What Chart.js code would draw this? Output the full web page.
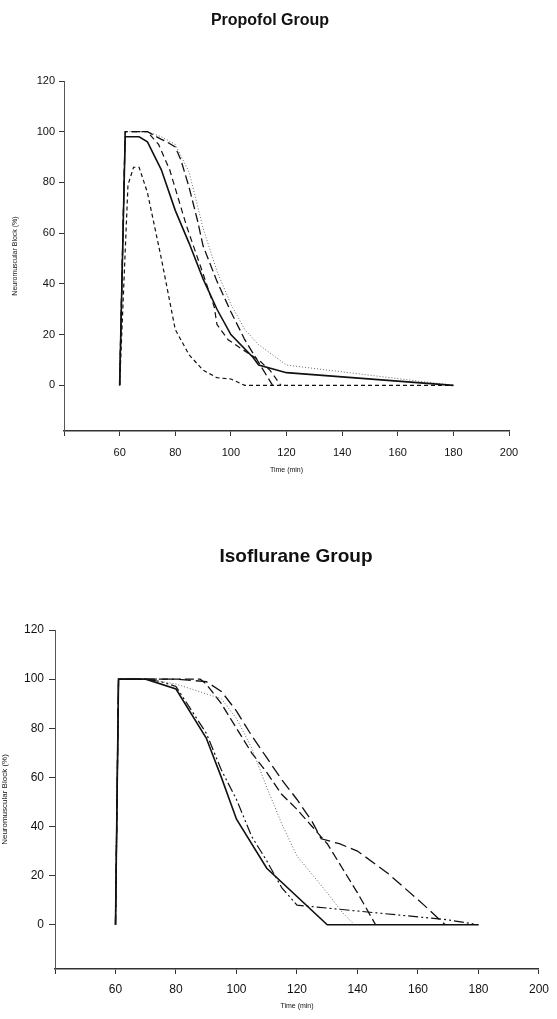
<!DOCTYPE html>
<html>
<head>
<meta charset="utf-8">
<script src="https://cdn.jsdelivr.net/npm/chart.js@4.4.1/dist/chart.umd.min.js"></script>
<style>
    body { margin: 0; background: #fff; width: 557px; height: 1019px; position: relative; overflow: hidden; font-family: "Liberation Sans", Arial, sans-serif; }
    canvas { position: absolute; left: 0; }
    .titulo { position: absolute; width: 300px; text-align: center; font-weight: bold; color: #111; white-space: nowrap; }
</style>
</head>
<body>
<canvas id="propofol" width="557" height="490" style="top:0"></canvas>
<canvas id="isoflurane" width="557" height="489" style="top:530px"></canvas>
<div class="titulo" style="left:120px; top:10px; font-size:16px; line-height:20px;">Propofol Group</div>
<div class="titulo" style="left:146px; top:545px; font-size:19px; line-height:22px;">Isoflurane Group</div>
<script>
// eixos
const xTicks = [40, 60, 80, 100, 120, 140, 160, 180, 200];
const yTicks = [0, 20, 40, 60, 80, 100, 120];

// Propofol group: [time, block %]
const propSolid = [[60, 0], [62, 98], [67, 98], [70, 96], [75, 85], [80, 69], [85, 56], [90, 42], [95, 30], [100, 20], [108, 11], [110, 8], [120, 5], [180, 0]];
const propShortDash = [[60, 0], [63, 79], [65, 86], [67, 86], [70, 76], [75, 50], [80, 22], [85, 12], [90, 6], [95, 3], [100, 2.5], [105, 0], [180, 0]];
const propLongDash = [[60, 0], [62, 100], [70, 100], [75, 97], [77, 96], [80, 94], [82, 89], [85, 78], [88, 65], [90, 55], [95, 41], [100, 29], [105, 18], [115, 0]];
const propMedDash = [[60, 0], [62, 100], [70, 100], [74, 95], [78, 85], [81, 74], [84, 63], [90, 44], [94, 31], [95, 24], [99, 18], [103, 15], [110, 10], [114, 6], [118, 0]];
const propDotted = [[60, 0], [62, 100], [70, 100], [75, 98], [80, 95], [85, 84], [90, 62], [95, 45], [100, 32], [105, 22], [110, 16], [115, 12], [120, 8], [180, 0]];

// Isoflurane group
const isoSolid = [[60, 0], [61, 100], [70, 100], [80, 96], [90, 76], [95, 60], [100, 43], [110, 23], [130, 0], [180, 0]];
const isoDashDot = [[60, 0], [61, 100], [70, 100], [75, 99], [80, 97], [90, 78], [95, 63], [100, 51], [105, 36], [110, 26], [115, 15], [120, 8], [170, 2], [180, 0]];
const isoDotted = [[60, 0], [61, 100], [70, 100], [80, 98], [90, 94], [95, 92], [100, 84], [105, 72], [110, 56], [115, 41], [120, 28], [130, 13], [135, 5], [139, 0]];
const isoLongDashA = [[60, 0], [61, 100], [70, 100], [80, 100], [88, 100], [90, 98], [95, 90], [100, 80], [105, 70], [110, 62], [115, 53], [120, 47], [125, 40], [130, 33], [135, 23], [140, 13], [146, 0]];
const isoLongDashB = [[60, 0], [61, 100], [70, 100], [80, 100], [90, 99], [95, 95], [100, 87], [105, 77], [110, 68], [115, 59], [120, 51], [125, 42], [128, 35], [134, 33], [140, 30], [150, 21], [162, 8], [169, 0]];

Chart.defaults.font.family = '"Liberation Sans", Arial, sans-serif';
Chart.defaults.color = '#111';

function serie(pontos, estilo) {
    return Object.assign({
        data: pontos.map(p => ({ x: p[0], y: p[1] })),
        borderColor: '#111',
        borderWidth: 1.3,
        pointRadius: 0,
        tension: 0,
        fill: false
    }, estilo);
}

function grafico(id, datasets, cfg) {
    new Chart(document.getElementById(id), {
        type: 'line',
        data: { datasets: datasets },
        options: {
            responsive: false,
            animation: false,
            layout: { padding: cfg.padding },
            plugins: { legend: { display: false }, tooltip: { enabled: false } },
            scales: {
                x: {
                    type: 'linear',
                    min: 40,
                    max: 200,
                    afterBuildTicks: s => { s.ticks = xTicks.map(v => ({ value: v })); },
                    afterFit: s => { s.height = cfg.xHeight; },
                    ticks: {
                        autoSkip: false,
                        maxRotation: 0,
                        padding: cfg.xPad,
                        font: { size: cfg.tickSize },
                        callback: v => v === 40 ? '' : v
                    },
                    grid: { drawOnChartArea: false, tickLength: 5, color: '#333' },
                    border: { color: '#333', width: 1.5 },
                    title: { display: true, text: 'Time (min)', font: { size: 7 }, padding: { top: 0, bottom: cfg.xTitlePad } }
                },
                y: {
                    type: 'linear',
                    min: -18,
                    max: 120,
                    afterBuildTicks: s => { s.ticks = yTicks.map(v => ({ value: v })); },
                    afterFit: s => { s.width = cfg.yWidth; },
                    ticks: { padding: cfg.yPad, font: { size: cfg.tickSize } },
                    grid: { drawOnChartArea: false, tickLength: cfg.yTick, color: '#333' },
                    border: { color: '#555', width: 1 },
                    title: { display: true, text: 'Neuromuscular Block (%)', font: { size: cfg.yTitleSize }, padding: { top: cfg.yTitlePad, bottom: 0 } }
                }
            }
        }
    });
}

grafico('propofol', [
    serie(propSolid, { borderWidth: 1.6 }),
    serie(propShortDash, { borderDash: [4, 3], borderWidth: 1.2 }),
    serie(propLongDash, { borderDash: [9, 4] }),
    serie(propMedDash, { borderDash: [6, 4], borderWidth: 1.2 }),
    serie(propDotted, { borderDash: [1, 2], borderColor: '#666', borderWidth: 1 })
], { padding: { top: 81, right: 48, bottom: 0, left: 0 }, xHeight: 59, yWidth: 64, xPad: 10, yPad: 4, yTick: 5, tickSize: 11, xTitlePad: 16, yTitlePad: 11, yTitleSize: 7 });

grafico('isoflurane', [
    serie(isoSolid, { borderWidth: 1.6 }),
    serie(isoDashDot, { borderDash: [10, 3, 2, 3, 2, 3], borderWidth: 1.2 }),
    serie(isoDotted, { borderDash: [1, 2], borderColor: '#666', borderWidth: 1 }),
    serie(isoLongDashA, { borderDash: [9, 4] }),
    serie(isoLongDashB, { borderDash: [12, 5] })
], { padding: { top: 100, right: 11, bottom: 0, left: 0 }, xHeight: 50, yWidth: 55, xPad: 8, yPad: 5, yTick: 6, tickSize: 12, xTitlePad: 9, yTitlePad: 0, yTitleSize: 8 });
</script>
</body>
</html>
